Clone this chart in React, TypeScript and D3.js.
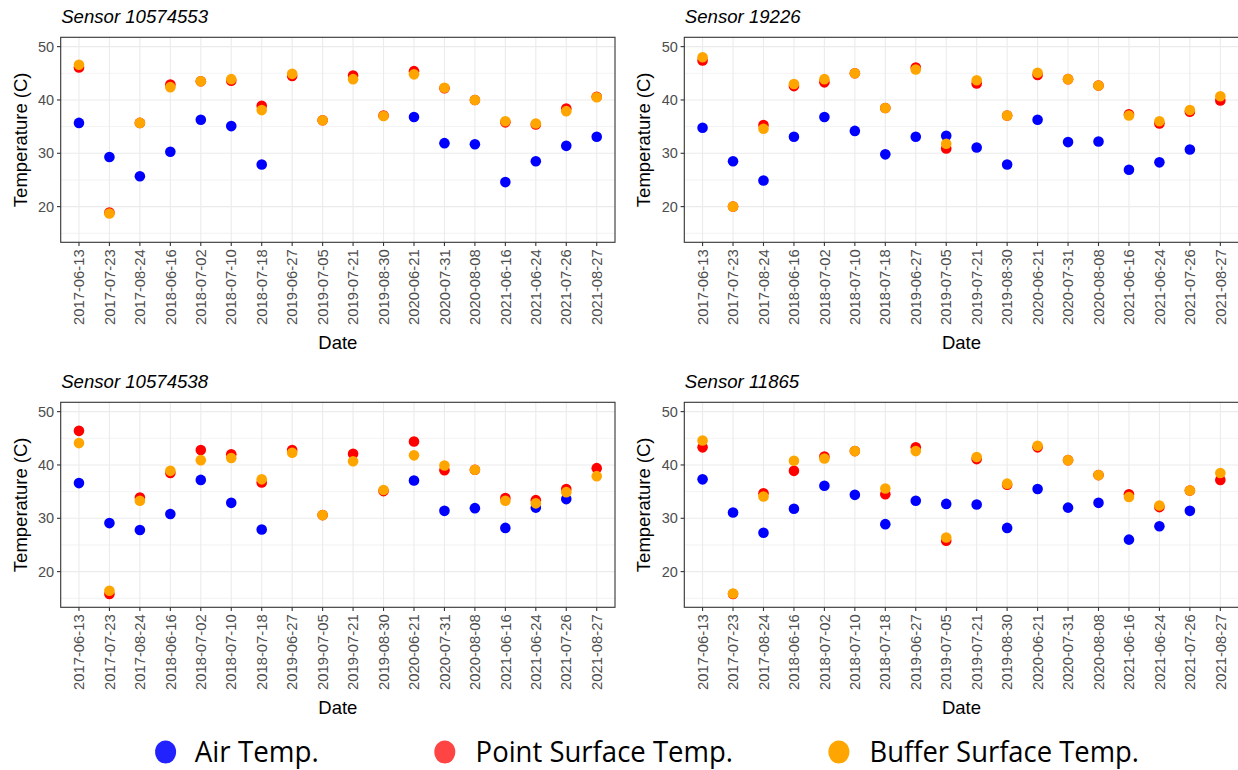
import * as d3 from 'd3'

// dates shared by all four sensors
const dates = [
  '2017-06-13', '2017-07-23', '2017-08-24', '2018-06-16', '2018-07-02', '2018-07-10',
  '2018-07-18', '2019-06-27', '2019-07-05', '2019-07-21', '2019-08-30', '2020-06-21',
  '2020-07-31', '2020-08-08', '2021-06-16', '2021-06-24', '2021-07-26', '2021-08-27'
]

const sensorNames = ['Sensor 10574553', 'Sensor 19226', 'Sensor 10574538', 'Sensor 11865']
const yTicks = [20, 30, 40, 50]
const yMinorTicks = [15, 25, 35, 45]

const air10574553 = [35.7, 29.3, 25.7, 30.3, 36.3, 35.1, 27.9, null, null, null, null, 36.8, 31.9, 31.7, 24.6, 28.5, 31.4, 33.1]
const point10574553 = [46.1, 18.9, 35.7, 42.9, 43.5, 43.6, 38.9, 44.5, 36.2, 44.6, 37.1, 45.4, 42.2, 40.0, 35.8, 35.4, 38.4, 40.6]
const buffer10574553 = [46.6, 18.7, 35.7, 42.4, 43.5, 43.9, 38.1, 44.9, 36.2, 43.9, 37.0, 44.8, 42.3, 40.0, 36.0, 35.6, 37.9, 40.5]

const air19226 = [34.8, 28.5, 24.9, 33.1, 36.8, 34.2, 29.8, 33.1, 33.3, 31.1, 27.9, 36.3, 32.1, 32.2, 26.9, 28.3, 30.7, null]
const point19226 = [47.4, 20.0, 35.3, 42.6, 43.3, 45.0, 38.5, 46.1, 30.9, 43.1, 37.1, 44.7, 43.9, 42.7, 37.3, 35.6, 37.8, 39.9]
const buffer19226 = [48.0, 20.0, 34.6, 43.0, 43.9, 45.0, 38.5, 45.7, 31.8, 43.7, 37.1, 45.1, 43.9, 42.7, 37.1, 36.0, 38.1, 40.7]

const air10574538 = [36.6, 29.1, 27.8, 30.8, 37.2, 32.9, 27.9, null, null, null, null, 37.1, 31.4, 31.9, 28.2, 32.0, 33.6, null]
const point10574538 = [46.4, 15.8, 33.9, 38.5, 42.8, 42.0, 36.7, 42.8, 30.6, 42.1, 35.1, 44.4, 39.0, 39.1, 33.8, 33.4, 35.5, 39.4]
const buffer10574538 = [44.1, 16.4, 33.3, 38.9, 40.9, 41.3, 37.3, 42.3, 30.6, 40.7, 35.3, 41.8, 39.9, 39.1, 33.3, 32.8, 34.9, 37.9]

const air11865 = [37.3, 31.1, 27.3, 31.8, 36.1, 34.4, 28.9, 33.3, 32.7, 32.6, 28.2, 35.5, 32.0, 32.9, 26.0, 28.5, 31.4, null]
const point11865 = [43.3, 15.8, 34.7, 38.9, 41.6, 42.6, 34.5, 43.3, 25.8, 41.1, 36.3, 43.3, 40.9, 38.1, 34.5, 32.1, 35.2, 37.2]
const buffer11865 = [44.6, 15.9, 34.1, 40.8, 41.2, 42.6, 35.6, 42.6, 26.4, 41.5, 36.5, 43.6, 40.9, 38.1, 34.0, 32.4, 35.2, 38.5]

const seriesNames = ['Air Temp.', 'Point Surface Temp.', 'Buffer Surface Temp.']
const seriesColors = ['#0000ff', '#ff0000', '#ffa500']
const legendColors = ['#2222ff', '#ff4444', '#ffa500']

const sensorSeries = [
  [air10574553, point10574553, buffer10574553],
  [air19226, point19226, buffer19226],
  [air10574538, point10574538, buffer10574538],
  [air11865, point11865, buffer11865]
]

const W = 1238
const H = 770
const plotW = 554.3
const plotH = 205
const panelPos = [
  { left: 60.7, top: 37.3 },
  { left: 684.3, top: 37.3 },
  { left: 60.7, top: 402.3 },
  { left: 684.3, top: 402.3 }
]
const font = '"Liberation Sans", Arial, sans-serif'

function Panel({ idx }: { idx: number }) {
  const { left, top } = panelPos[idx]
  const x = d3.scalePoint<string>().domain(dates).range([left, left + plotW]).padding(0.6)
  const y = d3.scaleLinear().domain([13.31, 51.75]).range([top + plotH, top])
  const bottom = top + plotH
  const series = sensorSeries[idx]

  return (
    <g>
      <text x={left + 0.5} y={top - 14.5} fontFamily={font} fontStyle="italic" fontSize={18.6} fill="#000">
        {sensorNames[idx]}
      </text>
      <rect x={left} y={top} width={plotW} height={plotH} fill="#fff" />
      {yMinorTicks.map(t => (
        <line key={'m' + t} x1={left} x2={left + plotW} y1={y(t)} y2={y(t)} stroke="#ebebeb" strokeWidth={0.6} />
      ))}
      {yTicks.map(t => (
        <line key={'g' + t} x1={left} x2={left + plotW} y1={y(t)} y2={y(t)} stroke="#ebebeb" strokeWidth={1.1} />
      ))}
      {dates.map(d => (
        <line key={'v' + d} x1={x(d)} x2={x(d)} y1={top} y2={bottom} stroke="#ebebeb" strokeWidth={1.1} />
      ))}
      {series.map((vals, s) => (
        <g key={s}>
          {vals.map((v, i) => v == null ? null : (
            <circle key={i} cx={x(dates[i])} cy={y(v)} r={5.3} fill={seriesColors[s]} />
          ))}
        </g>
      ))}
      <rect x={left} y={top} width={plotW} height={plotH} fill="none" stroke="#333333" strokeWidth={1.1} />

      {/* y axis */}
      {yTicks.map(t => (
        <g key={'yt' + t}>
          <line x1={left - 3.7} x2={left} y1={y(t)} y2={y(t)} stroke="#333333" strokeWidth={1.1} />
          <text x={left - 6.5} y={y(t)} dy="0.35em" textAnchor="end" fontFamily={font} fontSize={14.5} fill="#4d4d4d">
            {t}
          </text>
        </g>
      ))}
      <text
        transform={`translate(${left - 34},${top + plotH / 2}) rotate(-90)`}
        textAnchor="middle"
        fontFamily={font}
        fontSize={18.5}
        fill="#000"
      >
        Temperature (C)
      </text>

      {/* x axis */}
      {dates.map(d => (
        <g key={'xt' + d}>
          <line x1={x(d)} x2={x(d)} y1={bottom} y2={bottom + 3.7} stroke="#333333" strokeWidth={1.1} />
          <text
            transform={`translate(${x(d)},${bottom + 7}) rotate(-90)`}
            textAnchor="end"
            dy="0.35em"
            fontFamily={font}
            fontSize={14.8}
            fill="#4d4d4d"
          >
            {d}
          </text>
        </g>
      ))}
      <text x={left + plotW / 2} y={bottom + 106.5} textAnchor="middle" fontFamily={font} fontSize={18.5} fill="#000">
        Date
      </text>
    </g>
  )
}

function Legend() {
  const cx = [165.6, 444.8, 838.9]
  const tx = [194.8, 475.6, 869.5]
  const tw = [124, 257.4, 269.5]
  return (
    <g>
      {seriesNames.map((n, i) => (
        <g key={n}>
          <ellipse cx={cx[i]} cy={752} rx={10.5} ry={11.5} fill={legendColors[i]} />
          <text
            x={tx[i]}
            y={762}
            fontFamily='"Open Sans", "Noto Sans", sans-serif'
            fontSize={29}
            textLength={tw[i]}
            lengthAdjust="spacingAndGlyphs"
            fill="#000"
          >
            {n}
          </text>
        </g>
      ))}
    </g>
  )
}

export default function App() {
  return (
    <svg width={W} height={H} style={{ position: 'absolute', left: 0, top: 0, background: '#fff' }}>
      <rect width={W} height={H} fill="#fff" />
      {sensorNames.map((_, i) => <Panel key={i} idx={i} />)}
      <Legend />
    </svg>
  )
}
